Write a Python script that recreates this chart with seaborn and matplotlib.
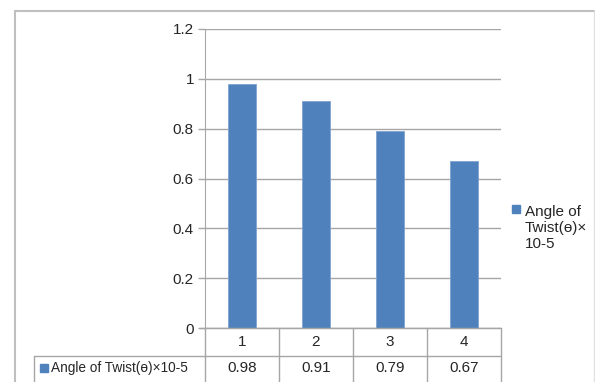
import pandas as pd
import matplotlib
matplotlib.use('Agg')
import matplotlib.pyplot as plt
import matplotlib.transforms as mtrans
import seaborn as sns
from matplotlib.lines import Line2D
from matplotlib.patches import Rectangle

categories = ['1', '2', '3', '4']
twist = [0.98, 0.91, 0.79, 0.67]
series_name = 'Angle of Twist(ɵ)×10-5'
legend_name = 'Angle of\nTwist(ɵ)×\n10-5'
yticks = [0, 0.2, 0.4, 0.6, 0.8, 1, 1.2]
ytick_labels = ['0', '0.2', '0.4', '0.6', '0.8', '1', '1.2']

df = pd.DataFrame({'cat': categories, 'val': twist})

sns.set_style('white')
plt.rcParams['font.family'] = ['Liberation Sans', 'DejaVu Sans']
bar_color = '#4F81BD'
grid_col = '#A6A6A6'
fs = 11

W, H = 595, 382
fig = plt.figure(figsize=(W / 100, H / 100), dpi=100)


def px(x, y):
    return x / W, 1 - y / H


# plot area in pixels: x 205..501, y 29..328
ax = fig.add_axes([205 / W, 1 - 328 / H, (501 - 205) / W, (328 - 29) / H])
sns.barplot(data=df, x='cat', y='val', color=bar_color, width=0.39,
            saturation=1, ax=ax, edgecolor='#7FA3D1', linewidth=0.6)
ax.set_ylim(0, 1.2)
ax.set_xlim(-0.5, len(categories) - 0.5)
ax.set_yticks(yticks)
ax.set_yticklabels(ytick_labels, fontsize=fs)
ax.set_xticks([])
ax.set_xlabel('')
ax.set_ylabel('')
ax.yaxis.grid(True, color=grid_col, lw=1)
ax.set_axisbelow(True)
for s in ['top', 'right']:
    ax.spines[s].set_visible(False)
ax.spines['left'].set_color(grid_col)
ax.spines['bottom'].set_color(grid_col)
ax.tick_params(axis='y', length=5, width=1, color=grid_col, left=True, pad=3)

# data table under the plot
line_kw = dict(color=grid_col, lw=1, transform=fig.transFigure)
row1_top, row2_top, bottom = 328, 356, 383
legend_left = 34
fig.add_artist(Line2D([px(200, 0)[0], px(501, 0)[0]], [px(0, row1_top)[1]] * 2, **line_kw))
fig.add_artist(Line2D([px(legend_left, 0)[0], px(501, 0)[0]], [px(0, row2_top)[1]] * 2, **line_kw))
fig.add_artist(Line2D([px(legend_left, 0)[0]] * 2, [px(0, row2_top)[1], px(0, bottom)[1]], **line_kw))

blend = mtrans.blended_transform_factory(ax.transData, fig.transFigure)
for i in range(len(categories) + 1):
    fig.add_artist(Line2D([i - 0.5] * 2, [px(0, row1_top)[1], px(0, bottom)[1]],
                          color=grid_col, lw=1, transform=blend))
for i, (c, v) in enumerate(zip(categories, twist)):
    fig.text(i, px(0, (row1_top + row2_top) / 2)[1], c, ha='center', va='center',
             fontsize=fs, transform=blend)
    fig.text(i, px(0, (row2_top + bottom) / 2 - 1)[1], f'{v:.2f}', ha='center',
             va='center', fontsize=fs, transform=blend)

fig.add_artist(Rectangle(px(40, 372), 8 / W, 8 / H, color=bar_color, transform=fig.transFigure))
fig.text(*px(51, 368), series_name, ha='left', va='center', fontsize=9.8)

# legend on the right
fig.add_artist(Rectangle(px(512, 213), 8 / W, 8 / H, color=bar_color, transform=fig.transFigure))
fig.text(*px(525, 228), legend_name, ha='left', va='center', fontsize=fs, linespacing=1.15)

# outer chart frame
frame_kw = dict(color='#BFBFBF', lw=1.5, transform=fig.transFigure)
fig.add_artist(Line2D([px(15, 0)[0]] * 2, [px(0, 11)[1], 0], **frame_kw))
fig.add_artist(Line2D([px(15, 0)[0], px(594, 0)[0]], [px(0, 11)[1]] * 2, **frame_kw))
fig.add_artist(Line2D([px(594, 0)[0]] * 2, [px(0, 11)[1], 0], color='#E0E0E0', lw=1,
                      transform=fig.transFigure))

fig.savefig('out.png', dpi=100)
